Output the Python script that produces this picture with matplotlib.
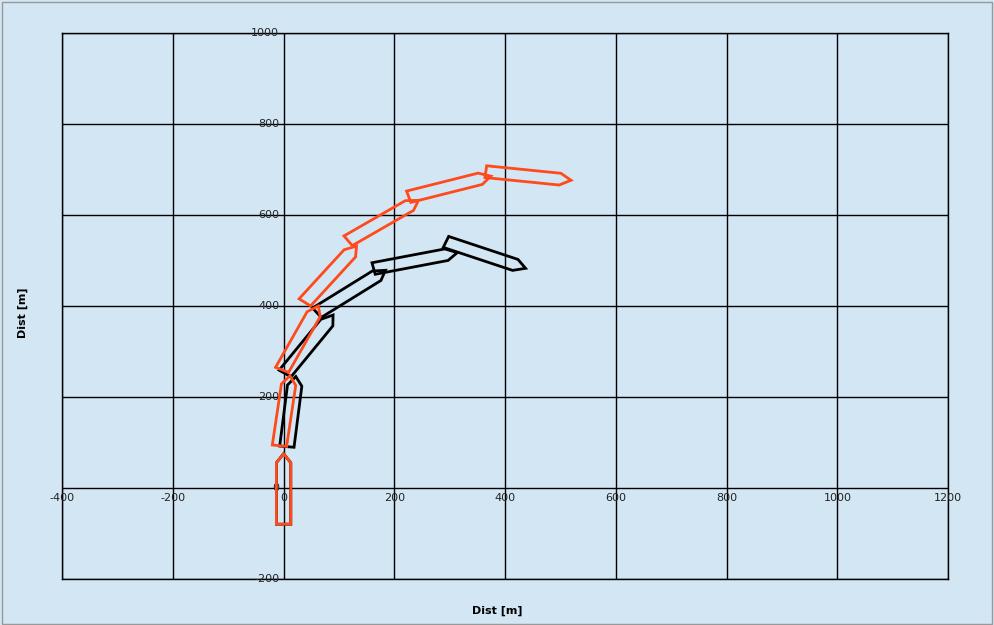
import numpy as np
import matplotlib
matplotlib.use("Agg")
import matplotlib.pyplot as plt
from matplotlib.patches import Polygon

# ship centre positions [m] and headings [deg clockwise from north]
red_x = [0, 2, 30, 85, 180, 300, 442]
red_y = [-2, 170, 330, 470, 588, 663, 686]
red_hdg = [0, 7, 25, 37, 55, 73, 97]
black_x = [0, 14, 46, 122, 238, 365]
black_y = [-2, 168, 316, 432, 500, 512]
black_hdg = [0, 6, 34, 53, 77, 112]
xticks = [-400, -200, 0, 200, 400, 600, 800, 1000, 1200]
yticks = [-200, 0, 200, 400, 600, 800, 1000]

L, B = 155, 26
bg = "#d3e6f4"

fig = plt.figure(figsize=(9.94, 6.25), dpi=100, facecolor=bg)
fig.patches.append(plt.Rectangle((0.002, 0.002), 0.996, 0.995, transform=fig.transFigure,
                                 fill=False, edgecolor="#999999", lw=1))
ax = fig.add_axes([0.0624, 0.0736, 0.8916, 0.8734])
ax.set_facecolor(bg)
ax.set_xlim(-400, 1200)
ax.set_ylim(-200, 1000)
ax.set_xticks(xticks)
ax.set_yticks(yticks)
ax.grid(True, color="black", lw=1)
ax.tick_params(length=0, labelbottom=False, labelleft=False)
for s in ax.spines.values():
    s.set_color("black")
    s.set_linewidth(1)
for v in xticks:
    ax.text(v, -12, str(v), ha="center", va="top", fontsize=8, color="#222222")
for v in yticks:
    ax.text(-8, v, str(v), ha="right", va="center", fontsize=8, color="#222222")

local = np.array([[-B/2, -L/2], [B/2, -L/2], [B/2, L/2-20], [0, L/2], [-B/2, L/2-20]])

def hull(x, y, h, color):
    a = np.radians(h)
    R = np.array([[np.cos(a), -np.sin(a)], [np.sin(a), np.cos(a)]])
    pts = local @ R + [x, y]
    ax.add_patch(Polygon(pts, closed=True, fill=False, edgecolor=color, lw=2, zorder=3))

for x, y, h in zip(black_x, black_y, black_hdg):
    hull(x, y, h, "black")
for x, y, h in zip(red_x, red_y, red_hdg):
    hull(x, y, h, "#ff4a1c")

fig.text(0.5, 0.018, "Dist [m]", ha="center", fontsize=8, fontweight="bold")
fig.text(0.018, 0.5, "Dist [m]", va="center", rotation=90, fontsize=8, fontweight="bold")
fig.savefig("out.png", dpi=100, facecolor=bg)
